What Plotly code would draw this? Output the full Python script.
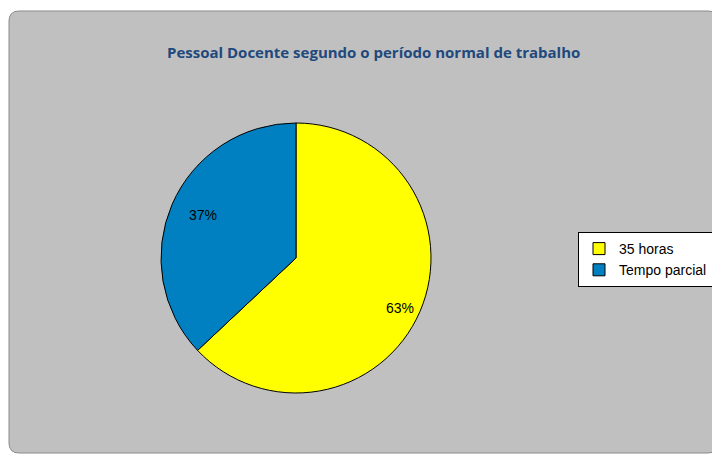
import plotly.graph_objects as go

labels = ["35 horas", "Tempo parcial"]
values = [63, 37]
colors = ["#FFFF00", "#0080C0"]
title_text = "Pessoal Docente segundo o período normal de trabalho"

# the page body adds an 8px offset; coordinates below are in figure pixels
W, H = 720, 455
cx, cy, r = 288, 250, 135

fig = go.Figure()
fig.add_trace(go.Pie(
    labels=labels, values=values, sort=False, direction="clockwise", rotation=0,
    marker=dict(colors=colors, line=dict(color="#000000", width=1)),
    textinfo="none", hoverinfo="label+percent",
    domain=dict(x=[(cx - r) / W, (cx + r) / W], y=[1 - (cy + r) / H, 1 - (cy - r) / H]),
))

total = sum(values)
label_pos = [(392, 300), (179, 207)]
annotations = []
for v, (px, py) in zip(values, label_pos):
    annotations.append(dict(
        x=px / W, y=1 - py / H, xref="paper", yref="paper",
        text=f"{round(100 * v / total)}%", showarrow=False,
        font=dict(family="Liberation Sans, Arial", size=14, color="#000000"),
    ))
annotations.append(dict(
    x=365 / W, y=1 - 32 / H, xref="paper", yref="paper", text=f"<b>{title_text}</b>",
    showarrow=False, font=dict(family="Open Sans, Lato, sans-serif", size=15, color="#1F497D"),
))

# rounded grey chart-area background (figure pixels -> paper)
L, T, R, B, rad = 1, 3, 710, 445, 10
def px(x): return x / W
def py(y): return 1 - y / H
path = (f"M {px(L)},{py(T + rad)} Q {px(L)},{py(T)} {px(L + rad)},{py(T)} "
        f"L {px(R - rad)},{py(T)} Q {px(R)},{py(T)} {px(R)},{py(T + rad)} "
        f"L {px(R)},{py(B - rad)} Q {px(R)},{py(B)} {px(R - rad)},{py(B)} "
        f"L {px(L + rad)},{py(B)} Q {px(L)},{py(B)} {px(L)},{py(B - rad)} Z")

fig.update_layout(
    width=W, height=H,
    margin=dict(l=0, r=0, t=0, b=0),
    paper_bgcolor="#FFFFFF",
    showlegend=True,
    legend=dict(
        x=570 / W, y=1 - 224 / H, xanchor="left", yanchor="top",
        bgcolor="#FFFFFF", bordercolor="#000000", borderwidth=1,
        font=dict(family="Liberation Sans, Arial", size=14, color="#000000"),
        itemwidth=30,
    ),
    shapes=[dict(type="path", path=path, xref="paper", yref="paper",
                 fillcolor="#C0C0C0", line=dict(color="#8A8A8A", width=1), layer="below")],
    annotations=annotations,
)

fig.write_html("out.html")
